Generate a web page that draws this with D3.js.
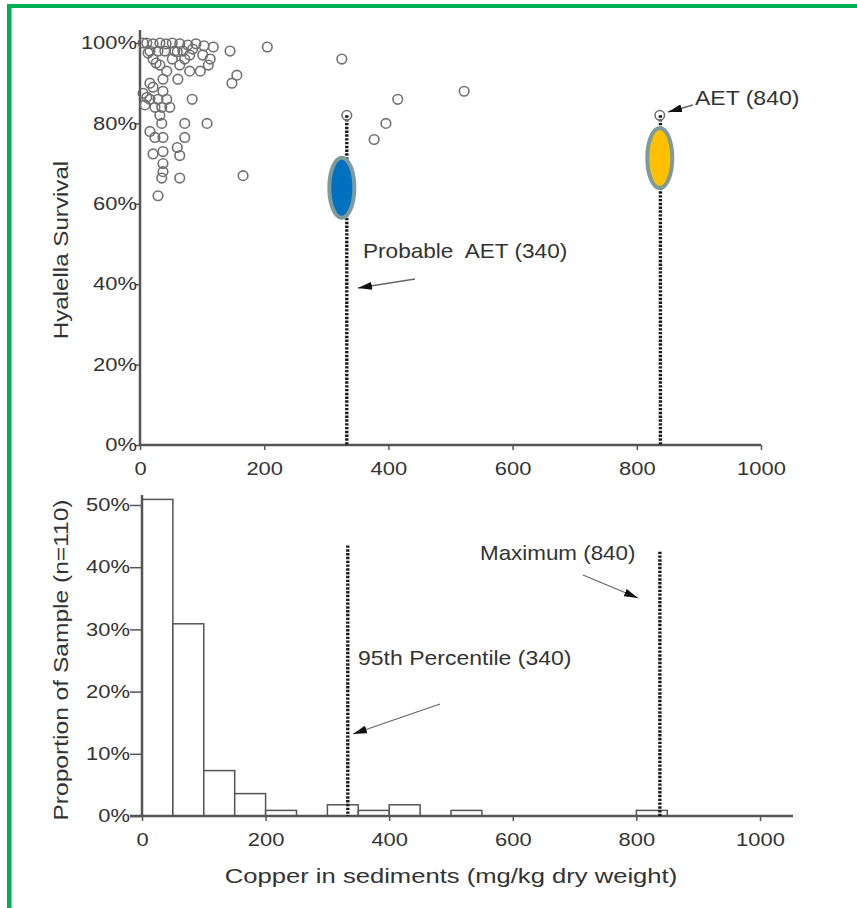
<!DOCTYPE html>
<html><head><meta charset="utf-8">
<script src="https://cdn.jsdelivr.net/npm/d3@7"></script>
<style>
html,body{margin:0;padding:0;background:#fff;}
text{font-family:"Liberation Sans",Arial,sans-serif;fill:#333;white-space:pre;}
</style></head>
<body>
<script>
// ---- data ----
// scatter: copper (mg/kg) vs Hyalella survival (%)
const copper = [5,11,21,32,42,52,64,77,90,103,118,145,205,16,29,40,56,69,80,72,101,113,97,110,21,43,61,37,156,148,84,5,11,21,37,16,29,43,24,35,48,35,72,108,16,24,37,72,60,21,37,64,37,37,64,35,166,29,325,333,415,396,377,522,837,13,52,32,64,80,16,8,32,85,60,26];
const survival = [100,100,99.8,100,99.8,100,99.8,99.5,99.8,99.3,99,98,99,98,98,98,98,98,97,96,97,96,93,94.5,96,93,91,91,92,90,86,87.5,86.5,89,88,86,86,86,84,84,84,80,80,80,78,76.5,76.5,76.5,74,72.4,73,72,70,68,66.4,66.4,67,62,96,82,86,80,76,88,82,97.5,96,94.5,94.5,93,90,84.6,82,98.5,97.8,95];
// histogram: bins of 50 mg/kg, proportion of sample (%)
const binStart = [0,50,100,150,200,250,300,350,400,450,500,550,600,650,700,750,800];
const binProp  = [50.9,30.9,7.3,3.6,0.9,0,1.8,0.9,1.8,0,0.9,0,0,0,0,0,0.9];
const binWidth = 50;
const xTicks = [0,200,400,600,800,1000];
const survTicks = [0,20,40,60,80,100];
const propTicks = [0,10,20,30,40,50];
const refLines = [333, 838];       // drawn positions of 340 / 840 lines
const refTopSurv = [82, 82];
const refTopProp = [43.5, 42.5];
const highlights = [{x:325,y:64,color:"#0070c0"},{x:837,y:71.4,color:"#ffc000"}];

const W=857,H=908;
const svg=d3.select("body").append("svg").attr("width",W).attr("height",H);
svg.append("rect").attr("width",W).attr("height",H).attr("fill","#fff");

// green frame
svg.append("rect").attr("x",7).attr("y",4).attr("width",850).attr("height",4).attr("fill","#00b050");
svg.append("rect").attr("x",7).attr("y",4).attr("width",4.5).attr("height",904).attr("fill","#00b050");

const AX="#555";
function stext(g,x,y,str,size,sx,anchor,rot){
  return g.append("text").attr("transform",`translate(${x},${y})${rot?` rotate(${rot})`:""} scale(${sx},1)`)
    .attr("font-size",size).attr("text-anchor",anchor||"start").text(str);
}

const defs=svg.append("defs");
defs.append("marker").attr("id","ah").attr("viewBox","0 0 14 8").attr("refX",14).attr("refY",4)
  .attr("markerWidth",14).attr("markerHeight",8).attr("markerUnits","userSpaceOnUse").attr("orient","auto")
  .append("path").attr("d","M0,0 L14,4 L0,8 Z").attr("fill","#111");

function arrow(x1,y1,x2,y2){
  svg.append("line").attr("x1",x1).attr("y1",y1).attr("x2",x2).attr("y2",y2)
    .attr("stroke","#666").attr("stroke-width",1.3).attr("marker-end","url(#ah)");
}
function styleAxis(a){
  a.select(".domain").remove();
  a.selectAll("line").attr("stroke",AX).attr("stroke-width",1.5);
  a.selectAll("text").attr("font-size",18).style("font-family",'"Liberation Sans",Arial,sans-serif').attr("fill","#333");
}
function dotted(g,x,yA,yB){
  g.append("line").attr("x1",x).attr("x2",x).attr("y1",yA).attr("y2",yB)
    .attr("stroke","#1a1a1a").attr("stroke-width",3.4).attr("stroke-dasharray","2.4,1.4");
}

// ---------- top chart ----------
const x1=d3.scaleLinear().domain([0,1000]).range([140,761]);
const y1=d3.scaleLinear().domain([0,100]).range([445,43]);
const gTop=svg.append("g");

const xa1=gTop.append("g").attr("transform","translate(0,445)")
  .call(d3.axisBottom(x1).tickValues(xTicks).tickFormat(d3.format("d")).tickSize(5).tickPadding(12).tickSizeOuter(0));
const ya1=gTop.append("g").attr("transform","translate(140,0)")
  .call(d3.axisLeft(y1).tickValues(survTicks).tickFormat(d=>d+"%").tickSize(5).tickSizeOuter(0));
styleAxis(xa1); styleAxis(ya1);
xa1.selectAll("text").attr("transform","scale(1.22,1)");
ya1.selectAll("text").attr("x",-3/1.22).attr("transform","scale(1.22,1)");
gTop.append("line").attr("x1",140).attr("x2",140).attr("y1",30).attr("y2",446).attr("stroke",AX).attr("stroke-width",2.5);
gTop.append("line").attr("x1",139).attr("x2",x1(1000)).attr("y1",445).attr("y2",445).attr("stroke",AX).attr("stroke-width",2.5);

refLines.forEach((v,i)=>dotted(gTop,x1(v),y1(refTopSurv[i]),y1(0)));

gTop.selectAll("circle.pt").data(copper.map((c,i)=>[c,survival[i]])).enter().append("circle")
  .attr("class","pt").attr("cx",d=>x1(d[0])).attr("cy",d=>y1(d[1])).attr("r",4.8)
  .attr("fill","none").attr("stroke","#707070").attr("stroke-width",1.6);

highlights.forEach(h=>{
  gTop.append("ellipse").attr("cx",x1(h.x)).attr("cy",y1(h.y)).attr("rx",12.5).attr("ry",30)
    .attr("fill",h.color).attr("stroke","#7f9a9b").attr("stroke-width",4);
});

stext(svg,363,258,"Probable  AET (340)",20,1.13);
arrow(415,279,358,288);
stext(svg,695,105,"AET (840)",20,1.15);
arrow(693,105,668,112);

stext(svg,68,250,"Hyalella Survival",21,1.15,"middle",-90);

// ---------- bottom chart ----------
const x2=d3.scaleLinear().domain([0,1000]).range([142,760]);
const y2=d3.scaleLinear().domain([0,50]).range([816,505]);
const gB=svg.append("g");

const xa2=gB.append("g").attr("transform","translate(0,816)")
  .call(d3.axisBottom(x2).tickValues(xTicks).tickFormat(d3.format("d")).tickSize(5).tickPadding(12).tickSizeOuter(0));
const ya2=gB.append("g").attr("transform","translate(142,0)")
  .call(d3.axisLeft(y2).tickValues(propTicks).tickFormat(d=>d+"%").tickSize(12).tickSizeOuter(0));
styleAxis(xa2); styleAxis(ya2);
xa2.selectAll("text").attr("transform","scale(1.22,1)");
ya2.selectAll("text").attr("x",-12/1.22).attr("transform","scale(1.22,1)");

gB.selectAll("rect.bar").data(binStart.map((s,i)=>[s,binProp[i]]).filter(d=>d[1]>0)).enter().append("rect")
  .attr("class","bar").attr("x",d=>x2(d[0])).attr("width",d=>x2(d[0]+binWidth)-x2(d[0]))
  .attr("y",d=>y2(d[1])).attr("height",d=>y2(0)-y2(d[1]))
  .attr("fill","#fff").attr("stroke","#555").attr("stroke-width",1.5);

gB.append("line").attr("x1",142).attr("x2",142).attr("y1",495).attr("y2",817).attr("stroke",AX).attr("stroke-width",2.5);
gB.append("line").attr("x1",130).attr("x2",793).attr("y1",816).attr("y2",816).attr("stroke",AX).attr("stroke-width",2.5);

refLines.forEach((v,i)=>dotted(gB,x2(v),y2(refTopProp[i]),y2(0)));

stext(svg,480,560,"Maximum (840)",20,1.12);
arrow(583,575,638,598);
stext(svg,358,665,"95th Percentile (340)",20,1.15);
arrow(440,704,353,734);

stext(svg,68,660,"Proportion of Sample (n=110)",21,1.17,"middle",-90);
stext(svg,451,883,"Copper in sediments (mg/kg dry weight)",21,1.22,"middle");
</script>
</body></html>
